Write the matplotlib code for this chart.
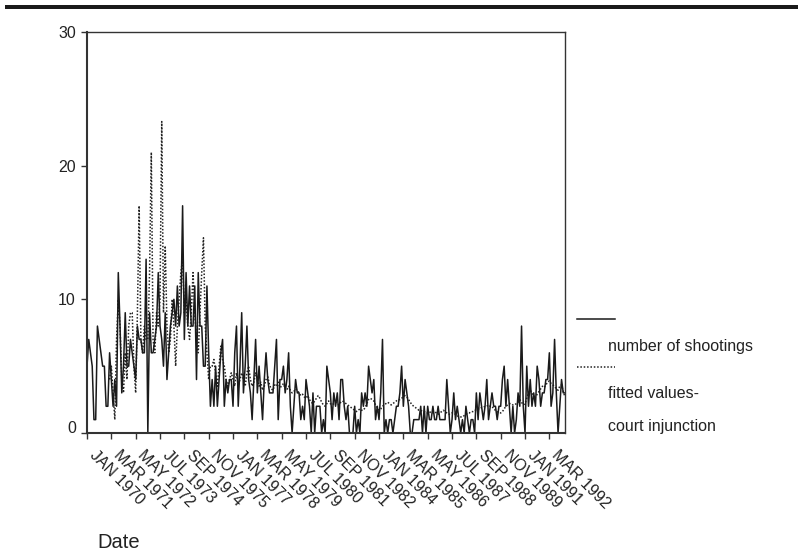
import numpy as np
import matplotlib.pyplot as plt
import matplotlib.transforms as mtransforms
from matplotlib.lines import Line2D
from matplotlib.patches import Rectangle

plt.rcParams['font.family'] = ['Liberation Sans', 'DejaVu Sans']

# monthly counts, Jan 1970 - Dec 1992 (one row per year)
shootings = [
    5, 7, 6, 5, 1, 1, 8, 7, 6, 5, 5, 2,
    2, 6, 4, 2, 4, 2, 12, 8, 3, 5, 9, 5,
    5, 7, 6, 5, 4, 8, 7, 7, 6, 6, 13, 0,
    9, 6, 6, 7, 8, 12, 8, 7, 5, 9, 4, 6,
    8, 9, 10, 8, 11, 8, 9, 17, 7, 12, 8, 11,
    8, 8, 11, 4, 12, 8, 8, 5, 5, 11, 6, 2,
    4, 2, 5, 2, 4, 6, 7, 2, 4, 3, 4, 4,
    2, 6, 8, 2, 5, 9, 3, 5, 8, 4, 3, 1,
    4, 7, 3, 5, 3, 1, 4, 6, 4, 3, 3, 3,
    5, 7, 1, 4, 4, 5, 3, 4, 6, 2, 0, 2,
    4, 3, 3, 1, 2, 1, 4, 3, 2, 0, 3, 0,
    2, 2, 2, 0, 1, 0, 5, 4, 3, 1, 3, 2,
    3, 1, 4, 4, 2, 1, 2, 0, 0, 0, 2, 0,
    1, 0, 3, 2, 3, 2, 5, 4, 3, 4, 1, 2,
    1, 3, 7, 0, 1, 0, 1, 1, 0, 1, 2, 2,
    3, 5, 2, 4, 3, 2, 0, 0, 1, 1, 1, 1,
    2, 0, 2, 0, 2, 1, 1, 2, 1, 1, 2, 1,
    1, 1, 1, 4, 2, 0, 1, 3, 1, 2, 1, 0,
    1, 0, 2, 1, 0, 1, 1, 0, 3, 1, 3, 2,
    1, 2, 4, 1, 2, 3, 2, 2, 1, 2, 2, 4,
    5, 2, 4, 2, 0, 2, 0, 1, 3, 2, 8, 2,
    0, 5, 2, 4, 2, 3, 2, 5, 4, 2, 3, 3,
    4, 4, 6, 2, 3, 7, 3, 0, 2, 4, 3, 3,
]

nan = np.nan
fitted = [
    nan, nan, nan, nan, nan, nan, nan, nan, nan, nan, nan, nan,
    nan, 4, 5, 3, 1, 7, 10, 8, 4, 3, 6, 4,
    8, 9, 9, 5, 3, 9, 17, 7, 6, 8, 7, 7,
    12, 21, 7, 6, 9, 8, 10, 23.3, 9, 14, 8, 6,
    7, 10, 8, 5, 8, 10, 12, 13, 9, 10, 8, 7,
    9, 12, 9, 7, 6, 9, 12, 14.6, 8, 6, 4, 5,
    5, 5.5, 4.5, 3.5, 5, 6.5, 5.5, 5, 4, 3.5, 4, 4.5,
    4, 3.5, 4.5, 3.5, 4, 4.5, 4, 3.5, 4.5, 5, 4, 3.5,
    3.8, 4.5, 4, 3.5, 3.8, 3.2, 3.5, 4, 4.2, 3.6, 3.3, 3.2,
    3.6, 3.5, 3.8, 3.4, 3.5, 3.7, 3.3, 3.2, 3.5, 3.2, 3, 3.1,
    3.3, 3.2, 3, 2.8, 2.9, 2.7, 2.6, 2.8, 2.5, 2.3, 2.2, 2.4,
    2.6, 2.8, 2.6, 2.3, 2.1, 2, 2.2, 2.4, 2.2, 2.1, 2.2, 2.3,
    2.2, 2.1, 2.3, 2.4, 2.3, 2.2, 2.1, 2, 1.9, 1.8, 1.7, 1.6,
    1.7, 1.8, 1.7, 1.7, 1.9, 2.2, 2.5, 2.6, 2.5, 2.4, 2.1, 1.9,
    1.7, 1.8, 2, 2.1, 2.2, 2.3, 2.2, 2.1, 2.2, 2.3, 2.4, 2.5,
    2.5, 2.6, 2.7, 2.8, 2.7, 2.5, 2.3, 2.1, 2, 1.9, 1.8, 1.7,
    1.7, 1.6, 1.6, 1.5, 1.5, 1.6, 1.5, 1.5, 1.6, 1.5, 1.4, 1.5,
    1.6, 1.7, 1.6, 1.5, 1.4, 1.4, 1.5, 1.5, 1.4, 1.3, 1.2, 1.2,
    1.2, 1.3, 1.4, 1.5, 1.5, 1.6, 1.6, 1.7, 1.7, 1.8, 1.8, 1.9,
    1.9, 2, 2, 2.1, 2, 2, 1.8, 1.7, 1.6, 1.5, 1.5, 1.6,
    1.8, 2, 2.1, 2.2, 2.2, 2.1, 2.1, 2.2, 2.3, 2.5, 2.3, 2.1,
    2.2, 2.6, 3, 3.2, 3, 2.8, 2.7, 2.9, 3.1, 3.3, 3.5, 3.4,
    3.6, 3.8, 3.9, 3.7, 3.6, 3.5, 3.3, 3.2, 3.5, 3.6, 3.1, 2.7,
]

tick_labels = ["JAN 1970", "MAR 1971", "MAY 1972", "JUL 1973", "SEP 1974",
               "NOV 1975", "JAN 1977", "MAR 1978", "MAY 1979", "JUL 1980",
               "SEP 1981", "NOV 1982", "JAN 1984", "MAR 1985", "MAY 1986",
               "JUL 1987", "SEP 1988", "NOV 1989", "JAN 1991", "MAR 1992"]

dark = '#222222'
months = np.arange(len(shootings))

fig = plt.figure(figsize=(7.98, 5.54), dpi=100)
ax = fig.add_axes([87/798, 121/554, 478/798, 401/554])

ax.plot(months, fitted, color=dark, lw=1.1, linestyle=(0, (1, 1.2)))
ax.plot(months, shootings, color='#1a1a1a', lw=1.1)

ax.set_xlim(0, len(shootings) - 1)
ax.set_ylim(0, 30)
ax.set_yticks([0, 10, 20, 30])
ax.set_xticks(months[::14])
ax.set_xticklabels(tick_labels, rotation=-45, ha='left', va='center',
                   rotation_mode='anchor')
ax.tick_params(direction='out', length=4, width=1, color='#333333',
               labelsize=11.5, labelcolor=dark)
ax.tick_params(axis='x', pad=10)
ax.tick_params(axis='y', pad=4)
# nudge the slanted date labels a little to the right
shift = mtransforms.ScaledTranslation(5/100, 0, fig.dpi_scale_trans)
for lab in ax.get_xticklabels():
    lab.set_transform(lab.get_transform() + shift)
ax.get_yticklabels()[0].set_va('baseline')
for s in ax.spines.values():
    s.set_color('#333333')
    s.set_linewidth(1.0)
ax.spines['left'].set_linewidth(1.5)
ax.spines['bottom'].set_linewidth(1.5)

# legend, drawn the way the original tool lays it out
fig.add_artist(Line2D([577/798, 615/798], [1-319/554, 1-319/554],
                      color='#1a1a1a', lw=1.1))
fig.add_artist(Line2D([577/798, 615/798], [1-367/554, 1-367/554],
                      color=dark, lw=1.1, linestyle=(0, (1, 1.2))))
fig.text(608/798, 1-347/554, "number of shootings", fontsize=11.5,
         color=dark, va='center')
fig.text(608/798, 1-394/554, "fitted values-", fontsize=11.5,
         color=dark, va='center')
fig.text(608/798, 1-427/554, "court injunction", fontsize=11.5,
         color=dark, va='center')

fig.text(97/798, 1-543/554, "Date", fontsize=14.5, color=dark, va='center')

# thick rule across the top of the page
fig.add_artist(Rectangle((5/798, 1-9/554), 793/798, 4/554,
                         transform=fig.transFigure, color='#1a1a1a', lw=0))

fig.savefig("out.png", dpi=100)
